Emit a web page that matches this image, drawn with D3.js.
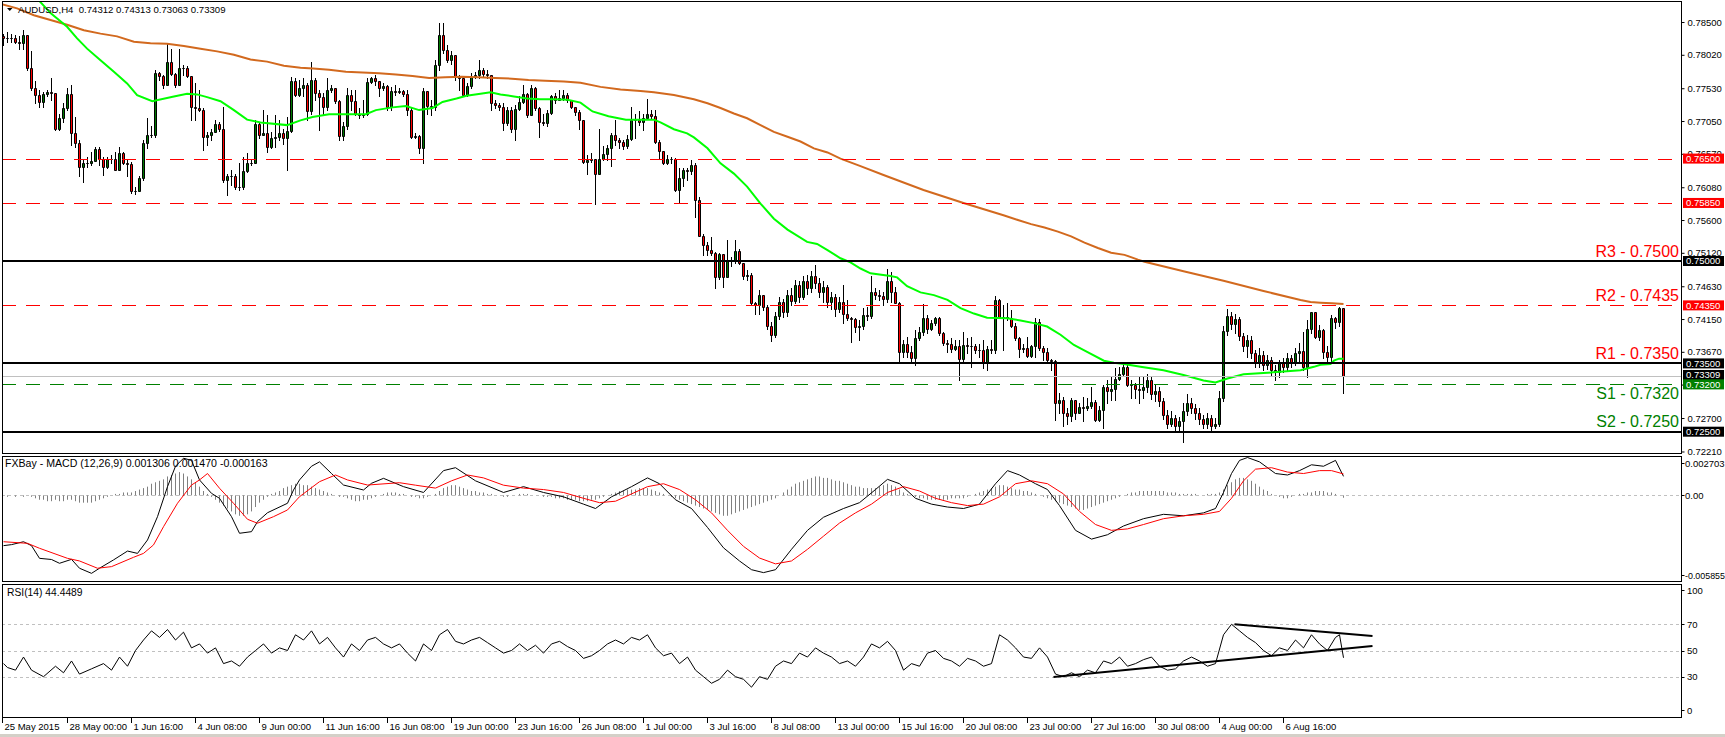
<!DOCTYPE html>
<html><head><meta charset="utf-8">
<script src="https://cdn.jsdelivr.net/npm/d3@7"></script>
<style>
html,body{margin:0;padding:0;background:#fff;}
svg{display:block;}
</style></head><body>
<svg id="c" width="1725" height="737"></svg>
<script>
// ---------------- DATA ----------------
const symbolTitle = "AUDUSD,H4  0.74312 0.74313 0.73063 0.73309";
const macdTitle = "FXBay - MACD (12,26,9) 0.001306 0.001470 -0.000163";
const rsiTitle = "RSI(14) 44.4489";
const firstOpen = 0.7829;
const closes = [
0.7827,0.7827,0.7827,0.7821,0.7819,0.7831,0.7782,0.7753,0.7743,0.7733,
0.7744,0.7747,0.7746,0.7694,0.7709,0.7724,0.7744,0.7687,0.7673,0.7638,
0.7644,0.7643,0.7646,0.7664,0.7650,0.7637,0.7649,0.7650,0.7634,0.7658,
0.7644,0.7642,0.7602,0.7603,0.7621,0.7673,0.7685,0.7685,0.7775,0.7771,
0.7758,0.7791,0.7774,0.7758,0.7782,0.7782,0.7771,0.7726,0.7724,0.7721,
0.7682,0.7685,0.7689,0.7700,0.7694,0.7619,0.7624,0.7624,0.7608,0.7608,
0.7632,0.7643,0.7644,0.7701,0.7685,0.7687,0.7667,0.7680,0.7681,0.7688,
0.7680,0.7690,0.7764,0.7743,0.7753,0.7758,0.7719,0.7765,0.7746,0.7740,
0.7726,0.7751,0.7754,0.7734,0.7683,0.7698,0.7743,0.7735,0.7716,0.7714,
0.7715,0.7762,0.7768,0.7763,0.7753,0.7756,0.7726,0.7749,0.7748,0.7749,
0.7745,0.7721,0.7681,0.7683,0.7665,0.7749,0.7727,0.7725,0.7787,0.7831,
0.7809,0.7795,0.7802,0.7769,0.7768,0.7743,0.7756,0.7769,0.7772,0.7780,
0.7774,0.7772,0.7731,0.7728,0.7725,0.7702,0.7721,0.7693,0.7722,0.7733,
0.7744,0.7714,0.7753,0.7724,0.7703,0.7702,0.7717,0.7741,0.7736,0.7738,
0.7743,0.7736,0.7725,0.7718,0.7707,0.7645,0.7648,0.7650,0.7628,0.7649,
0.7656,0.7666,0.7685,0.7677,0.7675,0.7669,0.7679,0.7707,0.7707,0.7704,
0.7710,0.7716,0.7712,0.7675,0.7661,0.7643,0.7650,0.7649,0.7604,0.7621,
0.7633,0.7632,0.7641,0.7589,0.7537,0.7523,0.7516,0.7512,0.7476,0.7510,
0.7477,0.7502,0.7500,0.7515,0.7497,0.7478,0.7479,0.7438,0.7435,0.7450,
0.7433,0.7405,0.7392,0.7420,0.7440,0.7425,0.7450,0.7442,0.7465,0.7448,
0.7470,0.7460,0.7478,0.7468,0.7455,0.7462,0.7440,0.7448,0.7430,0.7440,
0.7422,0.7416,0.7415,0.7404,0.7405,0.7421,0.7419,0.7455,0.7450,0.7449,
0.7445,0.7470,0.7455,0.7439,0.7366,0.7379,0.7367,0.7358,0.7387,0.7396,
0.7416,0.7400,0.7409,0.7416,0.7394,0.7380,0.7379,0.7371,0.7375,0.7357,
0.7377,0.7376,0.7376,0.7369,0.7370,0.7351,0.7371,0.7370,0.7443,0.7417,
0.7418,0.7417,0.7405,0.7387,0.7371,0.7372,0.7361,0.7375,0.7411,0.7372,
0.7367,0.7355,0.7353,0.7292,0.7296,0.7277,0.7273,0.7297,0.7278,0.7286,
0.7285,0.7287,0.7294,0.7267,0.7282,0.7315,0.7309,0.7312,0.7327,0.7334,
0.7345,0.7318,0.7319,0.7313,0.7311,0.7315,0.7325,0.7305,0.7310,0.7295,
0.7275,0.7262,0.7270,0.7258,0.7265,0.7280,0.7292,0.7285,0.7278,0.7268,
0.7262,0.7270,0.7258,0.7262,0.7300,0.7398,0.7420,0.7408,0.7415,0.7390,
0.7375,0.7385,0.7365,0.7350,0.7362,0.7348,0.7355,0.7340,0.7338,0.7350,
0.7345,0.7358,0.7352,0.7365,0.7368,0.7345,0.7400,0.7425,0.7389,0.7399,
0.7366,0.7360,0.7417,0.7410,0.74312,0.73309];
const highs = [
0.7833,0.7836,0.7833,0.7831,0.7829,0.7838,0.7831,0.7807,0.7763,0.7750,
0.7748,0.7750,0.7768,0.7746,0.7716,0.7731,0.7753,0.7758,0.7711,0.7677,
0.7648,0.7653,0.7660,0.7667,0.7667,0.7653,0.7653,0.7655,0.7660,0.7667,
0.7660,0.7648,0.7645,0.7609,0.7624,0.7677,0.7709,0.7697,0.7780,0.7777,
0.7772,0.7819,0.7811,0.7775,0.7811,0.7787,0.7785,0.7770,0.7760,0.7750,
0.7724,0.7689,0.7694,0.7707,0.7704,0.7726,0.7628,0.7633,0.7628,0.7643,
0.7653,0.7658,0.7650,0.7707,0.7704,0.7721,0.7714,0.7689,0.7714,0.7707,
0.7694,0.7711,0.7770,0.7768,0.7765,0.7768,0.7760,0.7792,0.7768,0.7750,
0.7746,0.7768,0.7758,0.7754,0.7736,0.7704,0.7753,0.7750,0.7750,0.7724,
0.7736,0.7768,0.7770,0.7772,0.7763,0.7760,0.7758,0.7755,0.7758,0.7753,
0.7751,0.7750,0.7724,0.7687,0.7685,0.7753,0.7746,0.7736,0.7794,0.7848,
0.7848,0.7816,0.7807,0.7802,0.7772,0.7770,0.7760,0.7775,0.7777,0.7795,
0.7782,0.7780,0.7772,0.7736,0.7731,0.7731,0.7726,0.7726,0.7728,0.7741,
0.7758,0.7746,0.7758,0.7755,0.7726,0.7716,0.7721,0.7743,0.7746,0.7750,
0.7750,0.7746,0.7736,0.7726,0.7721,0.7707,0.7655,0.7658,0.7645,0.7693,
0.7668,0.7670,0.7687,0.7707,0.7680,0.7677,0.7685,0.7725,0.7716,0.7719,
0.7716,0.7737,0.7721,0.7721,0.7677,0.7660,0.7655,0.7653,0.7651,0.7636,
0.7636,0.7636,0.7648,0.7643,0.7593,0.7540,0.7528,0.7535,0.7513,0.7511,
0.7510,0.7531,0.7506,0.7531,0.7517,0.7497,0.7487,0.7482,0.7440,0.7458,
0.7450,0.7435,0.7410,0.7425,0.7448,0.7445,0.7458,0.7460,0.7472,0.7470,
0.7478,0.7480,0.7485,0.7494,0.7475,0.7470,0.7465,0.7455,0.7452,0.7448,
0.7465,0.7443,0.7418,0.7416,0.7414,0.7431,0.7433,0.7478,0.7460,0.7458,
0.7455,0.7489,0.7484,0.7462,0.7440,0.7384,0.7389,0.7375,0.7399,0.7404,
0.7437,0.7421,0.7414,0.7418,0.7418,0.7396,0.7384,0.7387,0.7384,0.7384,
0.7396,0.7387,0.7389,0.7379,0.7379,0.7384,0.7375,0.7384,0.7449,0.7445,
0.7436,0.7438,0.7428,0.7409,0.7389,0.7379,0.7389,0.7377,0.7416,0.7415,
0.7375,0.7372,0.7357,0.7355,0.7306,0.7301,0.7284,0.7299,0.7284,0.7292,
0.7301,0.7299,0.7316,0.7296,0.7287,0.7318,0.7326,0.7331,0.7343,0.7345,
0.7350,0.7348,0.7326,0.7321,0.7331,0.7330,0.7335,0.7330,0.7320,0.7315,
0.7300,0.7282,0.7280,0.7275,0.7272,0.7292,0.7305,0.7300,0.7290,0.7285,
0.7275,0.7278,0.7275,0.7270,0.7310,0.7405,0.7430,0.7425,0.7422,0.7418,
0.7395,0.7392,0.7390,0.7370,0.7372,0.7368,0.7362,0.7360,0.7348,0.7355,
0.7358,0.7365,0.7362,0.7372,0.7380,0.7396,0.7413,0.7426,0.7415,0.7406,
0.7400,0.7376,0.7421,0.7418,0.7432,0.74313];
const lows = [
0.7816,0.7821,0.7821,0.7819,0.7811,0.7810,0.7780,0.7750,0.7731,0.7726,
0.7726,0.7741,0.7736,0.7692,0.7692,0.7704,0.7721,0.7670,0.7667,0.7624,
0.7616,0.7638,0.7641,0.7648,0.7641,0.7626,0.7636,0.7643,0.7633,0.7633,
0.7642,0.7624,0.7599,0.7598,0.7602,0.7619,0.7665,0.7682,0.7682,0.7765,
0.7753,0.7758,0.7772,0.7755,0.7758,0.7772,0.7769,0.7706,0.7706,0.7719,
0.7663,0.7670,0.7677,0.7689,0.7691,0.7616,0.7597,0.7611,0.7606,0.7604,
0.7605,0.7631,0.7641,0.7645,0.7680,0.7685,0.7660,0.7665,0.7667,0.7677,
0.7671,0.7634,0.7689,0.7741,0.7741,0.7741,0.7707,0.7716,0.7736,0.7692,
0.7714,0.7721,0.7748,0.7731,0.7677,0.7677,0.7694,0.7721,0.7714,0.7710,
0.7711,0.7714,0.7760,0.7758,0.7741,0.7750,0.7721,0.7721,0.7743,0.7746,
0.7741,0.7714,0.7680,0.7680,0.7658,0.7644,0.7716,0.7714,0.7721,0.7780,
0.7804,0.7792,0.7789,0.7765,0.7750,0.7741,0.7741,0.7753,0.7768,0.7768,
0.7770,0.7768,0.7721,0.7724,0.7721,0.7692,0.7699,0.7689,0.7677,0.7721,
0.7731,0.7711,0.7714,0.7721,0.7681,0.7699,0.7697,0.7716,0.7731,0.7736,
0.7736,0.7733,0.7724,0.7714,0.7694,0.7643,0.7628,0.7645,0.7583,0.7629,
0.7648,0.7648,0.7639,0.7670,0.7665,0.7664,0.7665,0.7677,0.7680,0.7699,
0.7692,0.7709,0.7709,0.7673,0.7649,0.7642,0.7642,0.7643,0.7602,0.7587,
0.7610,0.7619,0.7628,0.7565,0.7536,0.7509,0.7509,0.7509,0.7461,0.7474,
0.7462,0.7476,0.7492,0.7497,0.7495,0.7474,0.7472,0.7435,0.7423,0.7423,
0.7428,0.7400,0.7383,0.7388,0.7415,0.7418,0.7420,0.7435,0.7438,0.7440,
0.7445,0.7452,0.7455,0.7460,0.7448,0.7440,0.7432,0.7430,0.7420,0.7425,
0.7409,0.7414,0.7382,0.7396,0.7384,0.7401,0.7414,0.7416,0.7445,0.7443,
0.7436,0.7440,0.7440,0.7438,0.7353,0.7360,0.7360,0.7350,0.7348,0.7384,
0.7392,0.7394,0.7399,0.7406,0.7392,0.7377,0.7367,0.7367,0.7370,0.7326,
0.7350,0.7365,0.7345,0.7365,0.7360,0.7343,0.7340,0.7365,0.7365,0.7416,
0.7370,0.7414,0.7404,0.7384,0.7359,0.7367,0.7360,0.7360,0.7360,0.7370,
0.7355,0.7350,0.7341,0.7267,0.7277,0.7258,0.7262,0.7265,0.7268,0.7277,
0.7265,0.7282,0.7284,0.7266,0.7265,0.7255,0.7292,0.7296,0.7296,0.7326,
0.7331,0.7317,0.7299,0.7299,0.7292,0.7300,0.7308,0.7298,0.7295,0.7288,
0.7268,0.7255,0.7258,0.7252,0.7250,0.7235,0.7275,0.7278,0.7268,0.7262,
0.7255,0.7255,0.7252,0.7255,0.7258,0.7295,0.7392,0.7400,0.7395,0.7385,
0.7368,0.7360,0.7358,0.7345,0.7345,0.7340,0.7342,0.7332,0.7326,0.7330,
0.7338,0.7340,0.7345,0.7348,0.7350,0.7340,0.7330,0.7395,0.7387,0.7384,
0.7358,0.7351,0.7353,0.7402,0.7405,0.73063];

// moving averages [bar index, value]
const maFast = [[0,0.7940],[8.8,0.7882],[11.75,0.7863],[15.9,0.7843],[18.4,0.7826],[20.9,0.7811],[24.25,0.7794],[27.6,0.7777],[30.9,0.7760],[33.4,0.7743],[37.2,0.7734],[42.6,0.7741],[45.9,0.7745],[48.4,0.7744],[50.9,0.7740],[54.25,0.7734],[57.6,0.7721],[60.9,0.7707],[64.25,0.7703],[70.9,0.7699],[74.25,0.7706],[77.25,0.7711],[81.4,0.7715],[85.6,0.7715],[90.6,0.7715],[93.1,0.7721],[97.25,0.7725],[100.6,0.7727],[103.9,0.7721],[107.25,0.7724],[109.75,0.7733],[113.25,0.7738],[115.75,0.7742],[119.25,0.7745],[121.75,0.7747],[124.25,0.7744],[127.6,0.7741],[130.9,0.7738],[134.25,0.7737],[137.6,0.7737],[141,0.7736],[144.25,0.7732],[147.25,0.7719],[151.25,0.7712],[155.6,0.7707],[162.6,0.7707],[164.25,0.7703],[167.6,0.7693],[170.9,0.7687],[172.6,0.7681],[176,0.7665],[179.25,0.7643],[182.6,0.7628],[185.9,0.7609],[189.25,0.7584],[192.6,0.7562],[196,0.7546],[200.9,0.7528],[203.4,0.7525],[206,0.7516],[209.25,0.7504],[211.75,0.7498],[214.25,0.7489],[216.75,0.7482],[221.75,0.7478],[223.4,0.7476],[225.9,0.7463],[229.25,0.7454],[232.6,0.7450],[236,0.7443],[239.25,0.7431],[242.6,0.7423],[245.9,0.7417],[250.9,0.7416],[254.25,0.7413],[257.6,0.7409],[260.9,0.7404],[264.25,0.7392],[267.6,0.7377],[270.9,0.7367],[275.1,0.7354],[277.6,0.7351],[280.1,0.7349],[284.25,0.7345],[290,0.7340],[295,0.7333],[300,0.7325],[303,0.7322],[306,0.7328],[310,0.7334],[315,0.7336],[320,0.7338],[324.25,0.7340],[327.6,0.7345],[329.25,0.7348],[331.75,0.7349],[332.6,0.7354],[333.9,0.7357],[335,0.7357]];
const maSlow = [[-1,0.7877],[3.4,0.7870],[7.6,0.7860],[11.75,0.7853],[15.9,0.7846],[20.1,0.7838],[24.25,0.7833],[28.4,0.7829],[32.6,0.7821],[36.75,0.7819],[40.9,0.7818],[45.1,0.7815],[49.25,0.7811],[53.4,0.7807],[57.6,0.7802],[61.75,0.7795],[65.9,0.7792],[70.1,0.7786],[74.25,0.7783],[77.4,0.7782],[81.4,0.7780],[85.6,0.7777],[89.75,0.7776],[93.9,0.7775],[98.1,0.7773],[102.25,0.7771],[106.4,0.7768],[110.4,0.7769],[114.6,0.7770],[118.75,0.7769],[122.9,0.7768],[127.1,0.7767],[131.25,0.7765],[135.4,0.7764],[140.1,0.7763],[144.25,0.7761],[149.25,0.7755],[154.25,0.7751],[159.25,0.7749],[162.6,0.7747],[167.6,0.7743],[172.6,0.7737],[176,0.7731],[179.25,0.7724],[182.6,0.7716],[185.9,0.7709],[189.25,0.7699],[192.6,0.7689],[196,0.7682],[199.25,0.7675],[202.6,0.7665],[206,0.7659],[209.25,0.7650],[214.25,0.7639],[220,0.7626],[230,0.7604],[240,0.7585],[250,0.7567],[253.6,0.7560],[256.9,0.7554],[260.25,0.7549],[263.6,0.7543],[266.9,0.7536],[270.25,0.7527],[273.6,0.7519],[276.9,0.7512],[280.25,0.7509],[283.6,0.7502],[285.25,0.7499],[295,0.7485],[305,0.7471],[315,0.7456],[324.25,0.7443],[326.75,0.7440],[329.25,0.7439],[332.1,0.7438],[335,0.7437]];

// horizontal levels
const levelValues = [0.7650, 0.7585, 0.7500, 0.7435, 0.7350, 0.7320, 0.7250];
const levelKinds  = ["dashRed","dashRed","solid","dashRed","solid","dashGreen","solid"];
const levelNames  = ["", "", "R3 - 0.7500", "R2 - 0.7435", "R1 - 0.7350", "S1 - 0.7320", "S2 - 0.7250"];
const bidPrice = 0.73309;

// price axis
const priceTicks = [0.78500,0.78020,0.77530,0.77050,0.76570,0.76080,0.75600,0.75120,0.74630,0.74150,0.73670,0.73190,0.72700,0.72210];
const markerValues = [0.7650,0.7585,0.7500,0.7435,0.7350,0.73309,0.7320,0.7250];
const markerKinds  = ["red","red","black","red","black","bid","green","black"];

// time axis
const xTickIdx = [0,16,32,48,64,80,96,112,128,144,160,176,192,208,224,240,256,272,288,304,320];
const xTickLabels = ["25 May 2015","28 May 00:00","1 Jun 16:00","4 Jun 08:00","9 Jun 00:00","11 Jun 16:00","16 Jun 08:00","19 Jun 00:00","23 Jun 16:00","26 Jun 08:00","1 Jul 00:00","3 Jul 16:00","8 Jul 08:00","13 Jul 00:00","15 Jul 16:00","20 Jul 08:00","23 Jul 00:00","27 Jul 16:00","30 Jul 08:00","4 Aug 00:00","6 Aug 16:00"];

// MACD
const macdMain = [[0,-0.00345],[2,-0.00338],[5,-0.00318],[7,-0.00345],[9,-0.00432],[12,-0.00440],[14,-0.00466],[17,-0.00439],[19,-0.00500],[22,-0.00535],[24,-0.00500],[27.5,-0.00443],[31,-0.00382],[33.5,-0.00398],[36,-0.00306],[38.5,-0.00146],[41,0.00060],[43,0.00200],[45,0.00255],[47,0.00240],[49,0.00106],[52,0.00014],[54,-0.00020],[57,-0.00146],[59,-0.00260],[62,-0.00249],[63.5,-0.00180],[66,-0.00119],[71,-0.00054],[72.5,0.00037],[74,0.00106],[77,0.00200],[79,0.00230],[82,0.00150],[85,0.00071],[90,0.00037],[92,0.00083],[95,0.00117],[100,0.0006],[105,0.0002],[110,0.0017],[113,0.0019],[118,0.0010],[125,0.0002],[130,0.0006],[135,0.0002],[140,-0.0001],[145,-0.0006],[148,-0.0009],[152,-0.0001],[157,0.0006],[161,0.0012],[164,0.0008],[168,-0.0003],[172,-0.0009],[176,-0.0022],[180,-0.0036],[184,-0.0045],[187,-0.0051],[190,-0.0053],[193,-0.0051],[197,-0.0037],[201,-0.0024],[205,-0.0015],[210,-0.0009],[214,-0.0005],[218,0.0004],[221,0.0011],[224,0.0008],[228,-0.0002],[232,-0.0006],[236,-0.0008],[240,-0.0009],[244,-0.0006],[248,0.0008],[251,0.0017],[254,0.0014],[258,0.0008],[261,0.0004],[264,-0.0007],[268,-0.0024],[272,-0.0030],[276,-0.0027],[280,-0.0021],[285,-0.0016],[290,-0.0013],[295,-0.0014],[300,-0.0012],[303,-0.0009],[305,0.0002],[307,0.0015],[309,0.0024],[311,0.0026],[314,0.0023],[318,0.0015],[321,0.0014],[324,0.0017],[327,0.0021],[330,0.0020],[333,0.0024],[335,0.001306]];
const macdSignal = [[0,-0.00318],[6,-0.00329],[9,-0.00363],[16,-0.00432],[19,-0.00450],[23.5,-0.00500],[27,-0.00489],[32.5,-0.00425],[35,-0.00398],[37.5,-0.00340],[40,-0.00215],[43.5,-0.00054],[47,0.00071],[49,0.00106],[51,0.00150],[54,0.00049],[57.5,-0.00054],[61,-0.00164],[63.5,-0.00191],[67.5,-0.00146],[71,-0.00100],[74,-0.00009],[79,0.00094],[83,0.00140],[86,0.00106],[91,0.00071],[99,0.00087],[103,0.0007],[108,0.0005],[112,0.0010],[116,0.0014],[120,0.0012],[125,0.0007],[130,0.0005],[135,0.0004],[140,0.0002],[145,-0.0002],[149,-0.0005],[153,-0.0004],[157,0.0001],[161,0.0006],[165,0.0008],[169,0.0004],[173,-0.0003],[177,-0.0012],[181,-0.0024],[185,-0.0035],[189,-0.0043],[193,-0.0047],[197,-0.0045],[201,-0.0037],[205,-0.0028],[209,-0.0019],[213,-0.0012],[217,-0.0006],[221,0.0002],[225,0.0006],[229,0.0003],[233,-0.0002],[237,-0.0005],[241,-0.0007],[245,-0.0006],[249,-0.0001],[253,0.0008],[257,0.0010],[261,0.0008],[265,0.0001],[269,-0.0011],[273,-0.0020],[277,-0.0024],[281,-0.0023],[285,-0.0020],[290,-0.0016],[295,-0.0014],[300,-0.0013],[304,-0.0011],[307,-0.0002],[310,0.0010],[313,0.0018],[317,0.0019],[321,0.0016],[325,0.0015],[329,0.0017],[332,0.0017],[335,0.00147]];
// histogram per bar, in units of 0.0001
const macdHist = [0,-1,0,-1,0,-1,0,-1,
-2,-3,-3,-4,-4,-3,-4,-4,-3,-3,-4,-5,-5,-5,-5,-4,-3,
-2,-1,0,1,1,2,2,2, 3,4,5,6,8,9,10,11, 13,14,15,16,15,13,11,9, 6,3,1,-1,
-3,-5,-7,-9,-11,-13,-14,-14,-13,-11, -8,-5,-3,-1, 1,2,3,5,6,7,8, 8,7,7,6,5,4,3,2,1,
0,-1,-1,-2, -3,-4,-4,-3,-3,-2,-1, 0,1,2,2,2,1,1, 0,-1,-1,-2,-2,-1,0,1, 3,5,6,7,7,6,5,
4,3,3,2,2,1,1,0,0,-1,-1,0,0, 1,1,1,0,0,0,-1,-1, -1,-2,-2,-2,-3,-3,-3,-4,-4,-4,-3,-3,
-2,-1,0,1,2,3,3,4,4,4,5,5, 5,4,3,2,1,0,-1,-2,-3,-4,
-5,-6,-7,-8,-9,-10,-11,-12,-13,-14,-14,-13,-12,-11,-10,-9, -8,-7,-6,-5,-4,-3,
-2,0,2,4,6,8,9,10,11,12,13,13,12,12,11,10,10,9,8, 7,6,6,5,5,5,5,6, 7,8,7,6,4,2,1,
0,-1,-2,-2,-3,-3,-3,-3,-3,-3,-2,-2,-2,-2,-1, 0,1,2,3,4,5,6,7,7,6,5, 4,4,3,3,2,1,0,-1,-2,-3,
-4,-5,-6,-7,-8,-9,-10,-10,-9,-8, -7,-6,-5,-4,-3,-2,-1,0,1,2,2,3,3,3,3,3,3,3,2,
2,2,1,1,1,1,1,0,0,1,1,1, 2,4,7,9,11,12,12,11,10, 8,6,4,3,1,0,-1,-2,-2,-1,0,
1,1,2,2,3,3,3,2,2,1,0,-1.63];
const macdRange = [-0.005855, 0.002703];

// RSI
const rsiVals = [[0,40],[1,37],[3,35],[5,45],[7,35],[10,30],[13,38],[15,33],[17,42],[19,32],[22,36],[25,40],[27,35],[29,45],[31,38],[33,50],[35,58],[37,65],[39,60],[41,66],[43,58],[45,64],[47,52],[49,55],[51,48],[53,52],[55,40],[57,42],[59,38],[61,45],[63,50],[65,55],[67,48],[69,52],[71,50],[73,62],[75,58],[77,65],[79,55],[81,60],[83,52],[85,45],[87,55],[89,50],[91,58],[93,60],[95,55],[97,52],[99,55],[101,48],[103,42],[105,55],[107,50],[109,62],[111,66],[113,57],[115,55],[117,58],[119,60],[121,56],[123,52],[125,48],[127,50],[129,55],[131,50],[133,54],[135,48],[137,55],[139,57],[141,53],[143,50],[145,44],[147,46],[149,50],[151,55],[153,58],[155,55],[157,60],[159,58],[161,62],[163,52],[165,46],[167,48],[169,40],[171,45],[173,35],[175,30],[177,25],[179,28],[181,35],[183,30],[185,28],[187,22],[189,30],[191,28],[193,38],[195,42],[197,40],[199,48],[201,45],[203,52],[205,48],[207,45],[209,40],[211,42],[213,38],[215,45],[217,55],[219,52],[221,57],[223,50],[225,35],[227,40],[229,38],[231,48],[233,50],[235,44],[237,42],[239,38],[241,44],[243,42],[245,38],[247,40],[249,62],[251,58],[253,52],[255,45],[257,44],[259,52],[261,45],[263,32],[265,30],[267,33],[269,30],[271,35],[273,33],[275,42],[277,40],[279,45],[281,38],[283,40],[285,43],[287,45],[289,38],[291,35],[293,36],[295,42],[297,45],[299,42],[301,38],[303,40],[305,62],[307,70],[309,65],[311,60],[313,56],[315,50],[317,46],[319,52],[321,50],[323,58],[325,52],[327,62],[329,55],[331,50],[333,60],[334,62],[335,44.4489]];
const rsiLevels = [70, 50, 30];
const rsiAxisLabels = [100, 70, 50, 30, 0];
const rsiTrendLower = [[262.5, 29.8], [342.25, 53.4]];
const rsiTrendUpper = [[307.75, 70], [342.25, 61.1]];

// ---------------- DRAW ----------------
const FONT = '"Liberation Sans", Arial, sans-serif';
const svg = d3.select('#c');
const LEFT = 2, RIGHT = 1681;
const P = {top: 1, bottom: 453};
const M = {top: 456, bottom: 580.7};
const Rr = {top: 583.5, bottom: 717};

const x = d3.scaleLinear().domain([0, 335]).range([3.5, 1343.5]);
const yP = d3.scaleLinear().domain([0.721880, 0.788078]).range([453, 1]);
const yM = d3.scaleLinear().domain(macdRange).range([580.7, 456]);
const yR = d3.scaleLinear().domain([0, 100]).range([716, 585]);

svg.append('rect').attr('width',1725).attr('height',737).attr('fill','#fff');

const defs = svg.append('defs');
function clip(id, y0, y1){ defs.append('clipPath').attr('id',id).append('rect').attr('x',LEFT).attr('y',y0).attr('width',RIGHT-LEFT).attr('height',y1-y0); }
clip('cpMain', P.top, P.bottom); clip('cpMacd', M.top, M.bottom); clip('cpRsi', Rr.top, Rr.bottom);

// ---- main panel
const gMain = svg.append('g').attr('clip-path','url(#cpMain)');
const bars = closes.map((c,i)=>{
  const o = i===0 ? firstOpen : closes[i-1];
  return {i, o, c, h: Math.max(highs[i], o, c), l: Math.min(lows[i], o, c)};
});
gMain.selectAll('line.wick').data(bars).enter().append('line')
  .attr('x1',d=>x(d.i)).attr('x2',d=>x(d.i))
  .attr('y1',d=>Math.round(yP(d.h))).attr('y2',d=>Math.round(yP(d.l))+1)
  .attr('stroke','#000').attr('stroke-width',1);
gMain.selectAll('path.body').data(bars).enter().append('path')
  .attr('d',d=>{
    const t = Math.round(yP(Math.max(d.o,d.c)))+0.5, b = Math.round(yP(Math.min(d.o,d.c)))+0.5;
    const cx = x(d.i);
    return `M${cx-1},${t}H${cx+1}V${b}H${cx-1}Z`;
  })
  .attr('fill',d=>d.c>d.o?'#007800':(d.c<d.o?'#ff0000':'#000'))
  .attr('stroke','#000').attr('stroke-width',1);

const lineP = d3.line().x(d=>x(d[0])).y(d=>yP(d[1]));
gMain.append('path').attr('d',lineP(maSlow)).attr('fill','none').attr('stroke','#d2691e').attr('stroke-width',2);
gMain.append('path').attr('d',lineP(maFast)).attr('fill','none').attr('stroke','#00ff00').attr('stroke-width',2);

// bid line
gMain.append('line').attr('x1',LEFT).attr('x2',RIGHT).attr('y1',Math.round(yP(bidPrice))+0.5).attr('y2',Math.round(yP(bidPrice))+0.5).attr('stroke','#c0c0c0');

// levels
levelValues.forEach((v,k)=>{
  const kind = levelKinds[k];
  const yy = kind==='solid' ? Math.round(yP(v)) : Math.round(yP(v))+0.5;
  const ln = gMain.append('line').attr('x1',LEFT).attr('x2',RIGHT).attr('y1',yy).attr('y2',yy);
  if(kind==='solid') ln.attr('stroke','#000').attr('stroke-width',2);
  else ln.attr('stroke', kind==='dashRed'?'#ff0000':'#008000').attr('stroke-width',1).attr('stroke-dasharray','14,10');
});
levelValues.forEach((v,k)=>{
  if(!levelNames[k]) return;
  const isSup = levelNames[k][0]==='S';
  const below = levelKinds[k]==='dashGreen';
  svg.append('text').attr('x',1679).attr('y', below ? yP(v)+15.5 : yP(v)-4.3)
    .attr('text-anchor','end').attr('font-family',FONT).attr('font-size',16)
    .attr('fill', isSup ? '#008000' : '#ff0000').text(levelNames[k]);
});

// title
svg.append('path').attr('d','M7,8L12.5,8L9.75,11Z').attr('fill','#000');
svg.append('text').attr('x',18).attr('y',12.5).attr('font-family',FONT).attr('font-size',9.6).attr('fill','#000')
  .attr('xml:space','preserve').style('white-space','pre').text(symbolTitle);

// ---- MACD panel
const gM = svg.append('g').attr('clip-path','url(#cpMacd)');
gM.append('line').attr('x1',LEFT).attr('x2',RIGHT).attr('y1',Math.round(yM(0))+0.5).attr('y2',Math.round(yM(0))+0.5)
  .attr('stroke','#c0c0c0').attr('stroke-dasharray','3,3');
gM.selectAll('line.h').data(macdHist).enter().append('line')
  .attr('x1',(d,i)=>x(i)).attr('x2',(d,i)=>x(i))
  .attr('y1',yM(0)).attr('y2',d=>yM(d*0.0001))
  .attr('stroke','#808080').attr('stroke-width',1);
const lineM = d3.line().x(d=>x(d[0])).y(d=>yM(d[1]));
gM.append('path').attr('d',lineM(macdMain)).attr('fill','none').attr('stroke','#000').attr('stroke-width',1);
gM.append('path').attr('d',lineM(macdSignal)).attr('fill','none').attr('stroke','#ff0000').attr('stroke-width',1);
svg.append('text').attr('x',5).attr('y',466.5).attr('font-family',FONT).attr('font-size',10.6).attr('fill','#000').text(macdTitle);

// ---- RSI panel
const gR = svg.append('g').attr('clip-path','url(#cpRsi)');
rsiLevels.forEach(v=>{
  gR.append('line').attr('x1',LEFT).attr('x2',RIGHT).attr('y1',Math.round(yR(v))+0.5).attr('y2',Math.round(yR(v))+0.5)
    .attr('stroke','#c0c0c0').attr('stroke-dasharray','3,3');
});
const lineR = d3.line().x(d=>x(d[0])).y(d=>yR(d[1]));
gR.append('path').attr('d',lineR(rsiVals)).attr('fill','none').attr('stroke','#000').attr('stroke-width',1);
gR.append('path').attr('d',lineR(rsiTrendLower)).attr('stroke','#000').attr('stroke-width',2);
gR.append('path').attr('d',lineR(rsiTrendUpper)).attr('stroke','#000').attr('stroke-width',2);
svg.append('text').attr('x',7).attr('y',596).attr('font-family',FONT).attr('font-size',10.3).attr('fill','#000').text(rsiTitle);

// ---- panel borders
[[P.top,P.bottom],[M.top,M.bottom],[Rr.top,Rr.bottom]].forEach(([a,b])=>{
  svg.append('rect').attr('x',LEFT+0.5).attr('y',Math.round(a)+0.5).attr('width',RIGHT-LEFT).attr('height',Math.round(b)-Math.round(a))
    .attr('fill','none').attr('stroke','#000').attr('stroke-width',1);
});

// ---- price axis
const gAx = svg.append('g').attr('transform',`translate(${RIGHT+0.5},0)`)
  .call(d3.axisRight(yP).tickValues(priceTicks).tickFormat(d3.format('.5f')).tickSize(3).tickPadding(3));
gAx.select('.domain').remove();
gAx.selectAll('line').attr('stroke','#000');
gAx.selectAll('text').attr('font-family',FONT).attr('font-size',9.5).attr('fill','#000');

markerValues.forEach((v,k)=>{
  const kind = markerKinds[k];
  const cy = yP(v) + (kind==='bid' ? -1.5 : (kind==='green' ? 0.5 : 0));
  const col = kind==='red' ? '#ff0000' : (kind==='green' ? '#008000' : '#000');
  svg.append('rect').attr('x',1683).attr('y',cy-5).attr('width',41).attr('height',10).attr('fill',col);
  svg.append('text').attr('x',1686).attr('y',cy+3.5).attr('font-family',FONT).attr('font-size',9.5).attr('fill','#fff').text(d3.format('.5f')(v));
});

// MACD axis labels
const macdAxisVals = [macdRange[1], 0, macdRange[0]];
const macdAxisTexts = ['0.002703','0.00','-0.005855'];
macdAxisVals.forEach((v,k)=>{
  const yy = k===0 ? yM(v)+7 : (k===2 ? yM(v)-5.5 : yM(v));
  svg.append('line').attr('x1',RIGHT+0.5).attr('x2',RIGHT+3.5).attr('y1',Math.round(yy)+0.5).attr('y2',Math.round(yy)+0.5).attr('stroke','#000');
  svg.append('text').attr('x',RIGHT+4).attr('y',yy+3.5).attr('font-family',FONT).attr('font-size',k===2?8.9:9.5).attr('fill','#000').text(macdAxisTexts[k]);
});
// RSI axis labels
rsiAxisLabels.forEach(v=>{
  const yy = v===100 ? yR(v)+5 : (v===0 ? yR(v)-6 : yR(v));
  svg.append('line').attr('x1',RIGHT+0.5).attr('x2',RIGHT+3.5).attr('y1',Math.round(yy)+0.5).attr('y2',Math.round(yy)+0.5).attr('stroke','#000');
  svg.append('text').attr('x',RIGHT+6).attr('y',yy+3.5).attr('font-family',FONT).attr('font-size',9.5).attr('fill','#000').text(String(v));
});

// ---- time axis
xTickIdx.forEach((idx,k)=>{
  const xx = k===0 ? LEFT+0.5 : x(idx);
  svg.append('line').attr('x1',xx).attr('x2',xx).attr('y1',717.5).attr('y2',723).attr('stroke','#000');
  svg.append('text').attr('x',xx+2).attr('y',729.5).attr('font-family',FONT).attr('font-size',9.5).attr('fill','#000').text(xTickLabels[k]);
});

// bottom status strip
svg.append('rect').attr('x',0).attr('y',734).attr('width',1725).attr('height',3).attr('fill','#d4d0c8');
</script>
</body></html>
